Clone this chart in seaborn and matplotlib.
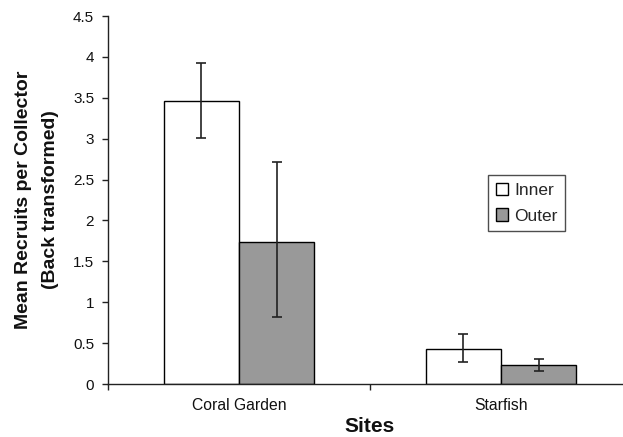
import matplotlib
matplotlib.use("Agg")
import matplotlib.pyplot as plt
import seaborn as sns
import pandas as pd
import numpy as np

sites = ["Coral Garden", "Starfish"]
positions = ["Inner", "Outer"]
means = {"Inner": [3.46, 0.43], "Outer": [1.74, 0.23]}
err_upper = {"Inner": [3.93, 0.61], "Outer": [2.72, 0.31]}
err_lower = {"Inner": [3.01, 0.27], "Outer": [0.82, 0.16]}
colors = {"Inner": "#ffffff", "Outer": "#999999"}
y_ticks = [0, 0.5, 1, 1.5, 2, 2.5, 3, 3.5, 4, 4.5]
y_ticklabels = ["0", "0.5", "1", "1.5", "2", "2.5", "3", "3.5", "4", "4.5"]

rows = []
for p in positions:
    for i, s in enumerate(sites):
        rows.append({"Site": s, "Position": p, "Mean": means[p][i],
                     "Hi": err_upper[p][i], "Lo": err_lower[p][i]})
df = pd.DataFrame(rows)

sns.set_theme(style="white")
plt.rcParams["font.family"] = ["Liberation Sans", "DejaVu Sans"]

W, H = 623, 437
fig = plt.figure(figsize=(W / 100, H / 100), dpi=100)
left, right, bottom, top = 108, 632, 384, 16
ax = fig.add_axes([left / W, (H - bottom) / H, (right - left) / W, (bottom - top) / H])

sns.barplot(data=df, x="Site", y="Mean", hue="Position", order=sites,
            hue_order=positions, palette=colors, edgecolor="black",
            linewidth=1.0, width=0.573, errorbar=None, ax=ax, legend=True)

# error bars at bar centres
for p, cont in zip(positions, ax.containers):
    sub = df[df.Position == p].set_index("Site").loc[sites]
    xs = [b.get_x() + b.get_width() / 2 for b in cont]
    ys = sub["Mean"].values
    yerr = np.vstack([ys - sub["Lo"].values, sub["Hi"].values - ys])
    ax.errorbar(xs, ys, yerr=yerr, fmt="none", ecolor="#222222",
                elinewidth=1.2, capsize=3.8, capthick=1.2, zorder=5)

ax.set_xlim(-0.5, 1.5)
ax.set_ylim(0, 4.5)
ax.set_yticks(y_ticks)
ax.set_yticklabels(y_ticklabels)
ax.set_xticks([-0.5, 0.5, 1.5], minor=True)
ax.tick_params(axis="x", which="major", length=0, pad=10, labelsize=11.3, colors="#111111")
ax.tick_params(axis="x", which="minor", length=4, width=1, direction="out", color="#222222")
ax.tick_params(axis="y", which="major", length=4, width=1, direction="out",
               pad=6, labelsize=11, color="#222222", labelcolor="#111111")
ax.tick_params(left=True, bottom=True)
ax.xaxis.set_tick_params(which="minor", bottom=True)

for s in ["top", "right"]:
    ax.spines[s].set_visible(False)
for s in ["left", "bottom"]:
    ax.spines[s].set_color("#222222")
    ax.spines[s].set_linewidth(1.0)

ax.set_xlabel("Sites", fontsize=15, fontweight="bold", labelpad=3, color="#111111")
ax.set_ylabel("Mean Recruits per Collector\n(Back transformed)", fontsize=14,
              fontweight="bold", labelpad=10, linespacing=1.75, color="#111111")

handles, labels = ax.get_legend_handles_labels()
leg = ax.legend(handles, labels, loc="upper left", bbox_to_anchor=((488 - left) / (right - left), (bottom - 175) / (bottom - top)),
                fontsize=12.5, frameon=True, fancybox=False, edgecolor="#222222",
                handlelength=0.7, handleheight=0.7, handletextpad=0.35,
                borderpad=0.45, labelspacing=0.6, borderaxespad=0)
leg.get_frame().set_linewidth(1.0)

fig.savefig("out.png", dpi=100)
